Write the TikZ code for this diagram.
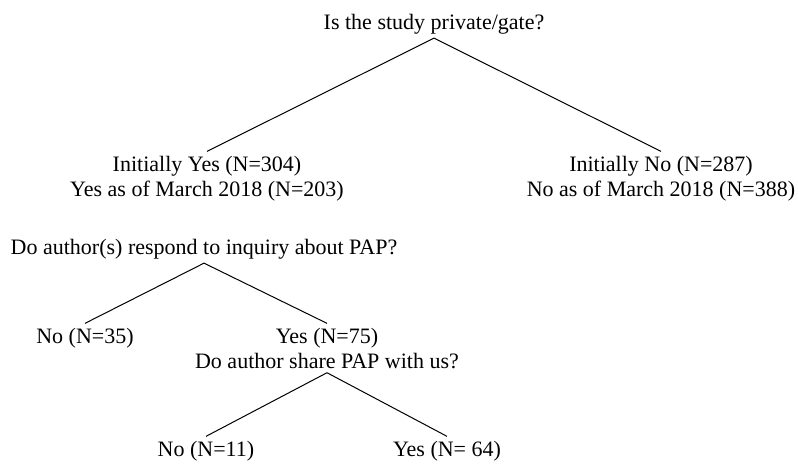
\documentclass[tikz,border=0pt]{standalone}
\usepackage{fontspec}
\setmainfont{Liberation Serif}
\begin{document}
\begin{tikzpicture}[
  x=0.5pt, y=-0.5pt,
  lbl/.style={inner xsep=0pt, inner ysep=2pt, align=center, anchor=base, font=\fontsize{11}{12.5}\selectfont},
  branch/.style={line width=0.5pt}
]
  \useasboundingbox (0,0) rectangle (798,463);

  % Is it gated?
  \node[lbl] (gate) at (434, 29) {Is the study private/gate?};
  \node[lbl] (inityes) at (207, 196) {Initially Yes (N=304)\\Yes as of March 2018 (N=203)};
  \node[lbl] (initno) at (661, 196) {Initially No (N=287)\\No as of March 2018 (N=388)};
  \draw[branch] (gate.south) -- (inityes.north);
  \draw[branch] (gate.south) -- (initno.north);

  % Did the authors answer?
  \node[lbl] (respond) at (204, 254) {Do author(s) respond to inquiry about PAP?};
  \node[lbl] (respno) at (85, 343) {No (N=35)};
  \node[lbl] (respyes) at (327, 368) {Yes (N=75)\\Do author share PAP with us?};
  \draw[branch] (respond.south) -- (respno.north);
  \draw[branch] (respond.south) -- (respyes.north);

  % Was the PAP shared?
  \node[lbl] (shareno) at (206, 456) {No (N=11)};
  \node[lbl] (shareyes) at (447, 456) {Yes (N= 64)};
  \draw[branch] (respyes.south) -- (shareno.north);
  \draw[branch] (respyes.south) -- (shareyes.north);
\end{tikzpicture}
\end{document}
